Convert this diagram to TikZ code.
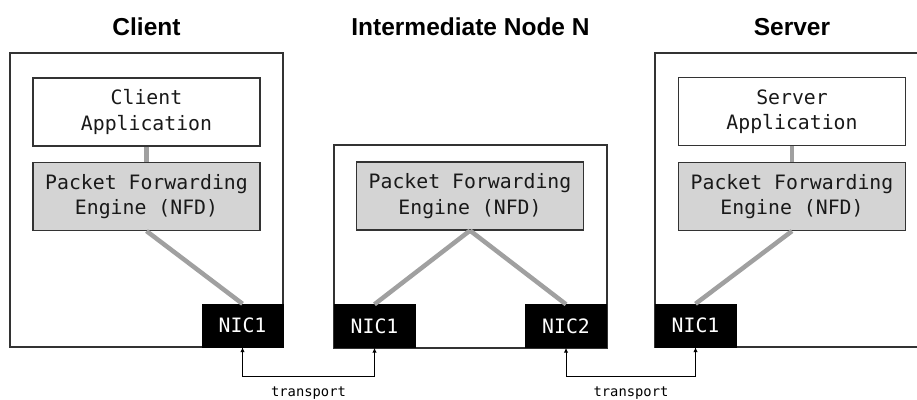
\documentclass[tikz,border=0pt]{standalone}
\usepackage{fontspec}
\setmainfont{Liberation Sans}
\newfontfamily\boxmono{DejaVu Sans Mono}
\usetikzlibrary{arrows.meta}
\definecolor{pfegray}{HTML}{D4D4D4}
\definecolor{linkgray}{HTML}{A0A0A0}
\definecolor{edgegray}{HTML}{333333}
\tikzset{
  outerbox/.style={draw=edgegray, line width=1.1pt, fill=white, inner sep=0pt},
  appbox/.style={draw=edgegray, line width=1.1pt, fill=white, minimum width=227pt, minimum height=68pt, inner sep=0pt, align=center, font=\boxmono\fontsize{19.8}{25.5}\selectfont, text=black!90},
  pfebox/.style={appbox, fill=pfegray},
  nicbox/.style={fill=black, draw=black, minimum width=81pt, minimum height=43pt, inner sep=0pt, text=white, font=\boxmono\fontsize{19.8}{24}\selectfont},
  link/.style={draw=linkgray, line width=4.5pt},
  tarrow/.style={draw=black, line width=1pt, {Latex[length=5pt,width=4.5pt]}-{Latex[length=5pt,width=4.5pt]}},
  title/.style={font=\bfseries\fontsize{24.5}{28}\selectfont, anchor=base},
  tlabel/.style={font=\boxmono\fontsize{13.8}{16}\selectfont, anchor=base}
}
\begin{document}
\begin{tikzpicture}[x=1pt,y=-1pt]
\useasboundingbox (0,0) rectangle (917,399);
\begin{scope}
\clip (0,0) rectangle (917,399);
% outer boxes
\node[outerbox, minimum width=273pt, minimum height=294pt] (cbox) at (146.5,200) {};
\node[outerbox, minimum width=273pt, minimum height=203pt] (ibox) at (470.5,246.5) {};
\node[outerbox, minimum width=273pt, minimum height=294pt] (sbox) at (791.5,200) {};
% titles
\node[title] (ctitle) at (146.5,35) {Client};
\node[title] (ititle) at (470.5,35) {Intermediate Node N};
\node[title] (stitle) at (792,35) {Server};
% client
\node[appbox] (capp) at (146.5,112) {Client\\Application};
\node[pfebox] (cpfe) at (146.5,196.5) {Packet Forwarding\\Engine (NFD)};
\node[nicbox] (cnic) at (242.5,325.5) {NIC1};
% intermediate
\node[pfebox] (ipfe) at (470,196) {Packet Forwarding\\Engine (NFD)};
\node[nicbox] (inic1) at (374.5,326) {NIC1};
\node[nicbox] (inic2) at (566,326) {NIC2};
% server
\node[appbox] (sapp) at (792,111.5) {Server\\Application};
\node[pfebox] (spfe) at (792,196.5) {Packet Forwarding\\Engine (NFD)};
\node[nicbox] (snic) at (695.5,325.5) {NIC1};
% links
\draw[link] (capp.south) -- (cpfe.north);
\draw[link] (cpfe.south) -- (cnic.north);
\draw[link] (ipfe.south) -- (inic1.north);
\draw[link] (ipfe.south) -- (inic2.north);
\draw[link] (sapp.south) -- (spfe.north);
\draw[link] (spfe.south) -- (snic.north);
% transport arrows
\draw[tarrow] (cnic.south) -- (cnic.south |- 0,376.5) -- (inic1.south |- 0,376.5) -- (inic1.south);
\draw[tarrow] (inic2.south) -- (inic2.south |- 0,376.5) -- (snic.south |- 0,376.5) -- (snic.south);
\node[tlabel] (t1) at (308.5,396.5) {transport};
\node[tlabel] (t2) at (631,396.5) {transport};
\end{scope}
\end{tikzpicture}
\end{document}
